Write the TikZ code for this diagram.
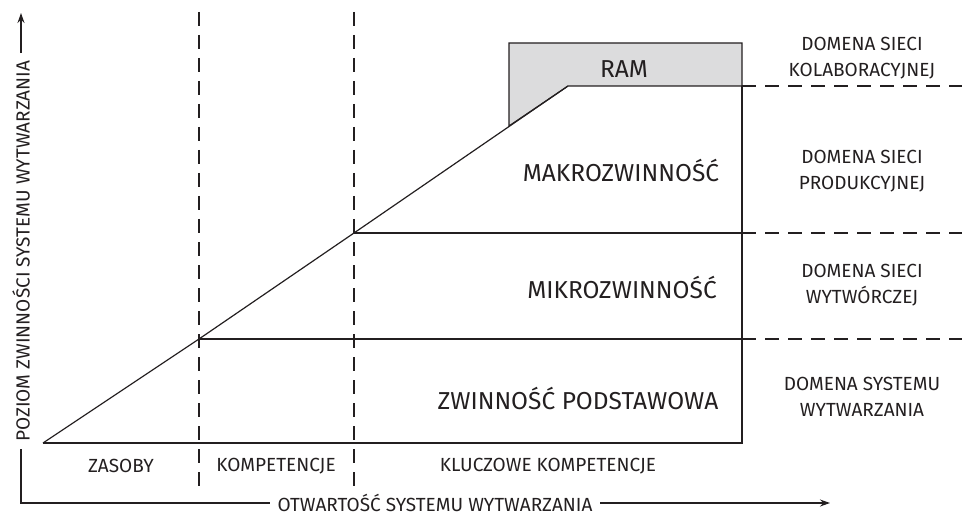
\documentclass[tikz,border=0pt]{standalone}
\usepackage{fontspec}
\setmainfont{Fira Sans}
\usetikzlibrary{arrows.meta}
\definecolor{ink}{HTML}{231F20}
\definecolor{ramgray}{HTML}{DCDCDD}
\begin{document}
\begin{tikzpicture}[
            x=1pt,y=-1pt,
            line width=1.2pt,
            every node/.style={text=ink},
            lvl/.style={font=\fontsize{24.5}{28}\selectfont},
            dom/.style={font=\fontsize{19}{26}\selectfont,align=center},
            zone/.style={font=\fontsize{19}{24}\selectfont},
            axl/.style={font=\fontsize{19}{24}\selectfont,inner xsep=7pt,inner ysep=0pt},
            sep/.style={draw=ink,dash pattern=on 14pt off 9pt},
        ]
    \useasboundingbox (0,0) rectangle (962,516);
    % corners of the staircase
    \coordinate (o) at (43,443);
    \coordinate (e) at (742,443);
    \coordinate (t1) at (199,339);
    \coordinate (t2) at (354,233);
    \coordinate (t3) at (568,86);
    \coordinate (r1) at (742,339);
    \coordinate (r2) at (742,233);
    \coordinate (r3) at (742,86);
    \coordinate (rtop) at (742,43);
    \coordinate (rl) at (509,43);
    \coordinate (rd) at (509,126);

    % RAM box
    \filldraw[draw=ink,fill=ramgray] (rd) -- (rl) -- (rtop) -- (r3) -- (t3) -- cycle;
    \draw[ink] (o) -- (t1) -- (t2) -- (t3);
    \draw[ink] (o) -- (e) -- (r3);
    \draw[ink] (t1) -- (r1);
    \draw[ink] (t2) -- (r2);

    % dashed separators
    \draw[sep] (199,12) -- (199,488);
    \draw[sep] (354,12) -- (354,488);
    \draw[sep] (r3) -- (962,86);
    \draw[sep] (r2) -- (962,233);
    \draw[sep] (r1) -- (962,339);

    \node[lvl] (ram) at (624,69) {RAM};
    \node[lvl] (makro) at (621,170) {MAKROZWINNOŚĆ};
    \node[lvl] (mikro) at (622,287) {MIKROZWINNOŚĆ};
    \node[lvl] (podst) at (578,398) {ZWINNOŚĆ PODSTAWOWA};

    \node[dom] (dkol) at (862,58) {DOMENA SIECI\\KOLABORACYJNEJ};
    \node[dom] (dprod) at (862,171) {DOMENA SIECI\\PRODUKCYJNEJ};
    \node[dom] (dwyt) at (862,285) {DOMENA SIECI\\WYTWÓRCZEJ};
    \node[dom] (dsys) at (862,397) {DOMENA SYSTEMU\\WYTWARZANIA};

    \node[zone] (zas) at (121,466) {ZASOBY};
    \node[zone] (komp) at (276,466) {KOMPETENCJE};
    \node[zone] (klucz) at (548,466) {KLUCZOWE KOMPETENCJE};

    % axes
    \coordinate (corner) at (21,503);
    \coordinate (xtip) at (830,503);
    \coordinate (ytip) at (21,13);
    \node[axl] (xlab) at (435,503) {OTWARTOŚĆ SYSTEMU WYTWARZANIA};
    \node[axl,rotate=90] (ylab) at (21,251) {POZIOM ZWINNOŚCI SYSTEMU WYTWARZANIA};
    \draw[ink] (xlab.west) -- (corner) -- (ylab.west);
    \draw[ink,-{Stealth[length=10pt,width=7pt]}] (xlab.east) -- (xtip);
    \draw[ink,-{Stealth[length=10pt,width=7pt]}] (ylab.east) -- (ytip);
\end{tikzpicture}
\end{document}
